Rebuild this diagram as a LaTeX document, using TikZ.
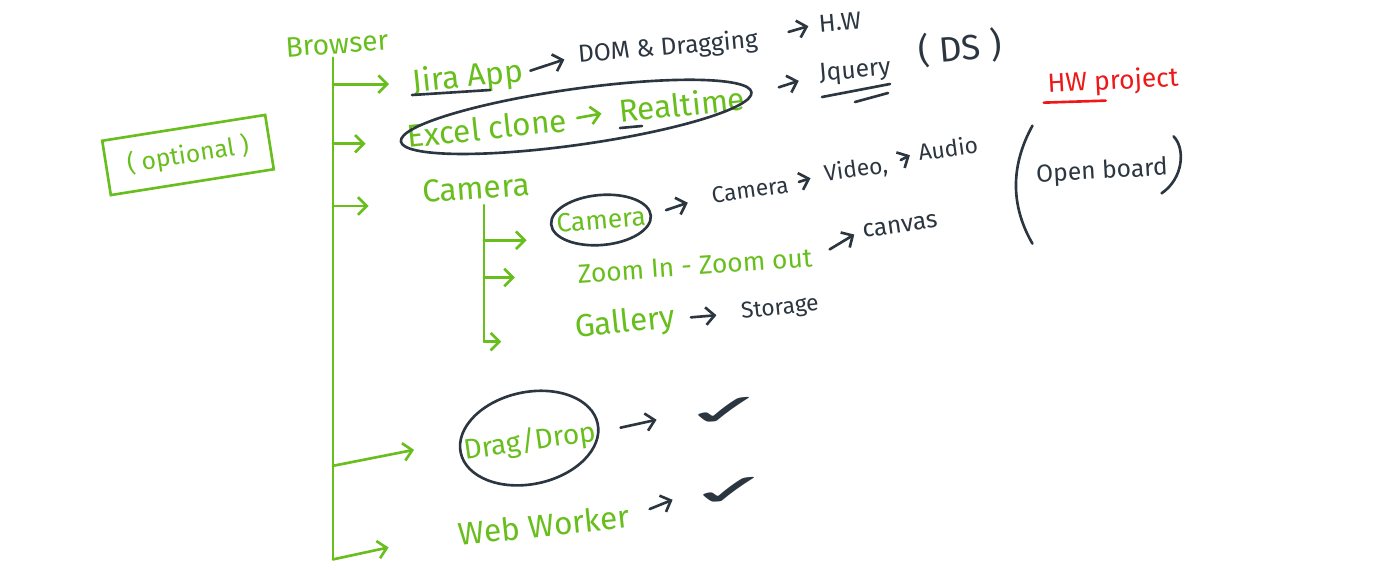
\documentclass[tikz,border=0pt]{standalone}
\usepackage{fontspec}
\setmainfont{Fira Sans}
\newfontfamily\symbolfont{DejaVu Sans}
\usetikzlibrary{positioning}
\usetikzlibrary{calc}
\usetikzlibrary{arrows.meta}
\definecolor{greenink}{RGB}{104,190,28}
\definecolor{darkink}{RGB}{44,54,64}
\definecolor{redink}{RGB}{238,24,24}
\tikzset{>={Straight Barb[length=5pt,width=10pt]}}
\tikzset{greentext/.style={text=greenink, font=\fontsize{18}{21}\selectfont, inner sep=2pt}}
\tikzset{darktext/.style={text=darkink, font=\fontsize{14}{17}\selectfont, inner sep=2pt}}
\tikzset{redtext/.style={text=redink, font=\fontsize{15}{18}\selectfont, inner sep=2pt}}
\tikzset{greenline/.style={draw=greenink, line width=1.5pt, line cap=round, line join=round}}
\tikzset{darkline/.style={draw=darkink, line width=1.5pt, line cap=round, line join=round}}
\tikzset{branch/.style={greenline, ->}}
\tikzset{lead/.style={darkline, ->}}
\tikzset{tick/.style={text=darkink, font=\symbolfont\fontsize{24}{24}\selectfont, xscale=2.6, inner sep=0pt}}

\begin{document}
\begin{tikzpicture}[x=0.02cm, y=-0.02cm]
    \useasboundingbox (0,0) rectangle (1390,569);

    % Green tree
    \node [greentext, font=\fontsize{16}{19}\selectfont, rotate=4] (browser) at (337,44) {Browser};
    \node [greentext, rotate=6] (jira) at (468,78) {Jira App};
    \node [greentext, rotate=6] (excel) at (487,128) {Excel clone};
    \node [greentext, rotate=6] (realtime) at (682,104) {Realtime};
    \node [greentext, rotate=4] (camera) at (476,188) {Camera};
    \node [greentext, font=\fontsize{15}{18}\selectfont, rotate=5] (camerabox) at (601,220) {Camera};
    \node [greentext, font=\fontsize{15}{18}\selectfont, rotate=4] (zoom) at (695,266) {Zoom In - Zoom out};
    \node [greentext, rotate=6] (gallery) at (625,324) {Gallery};
    \node [greentext, font=\fontsize{16}{19}\selectfont, rotate=8] (dragdrop) at (530,442) {Drag/Drop};
    \node [greentext, rotate=6] (webworker) at (544,525) {Web Worker};
    \node [greentext, font=\fontsize{14}{17}\selectfont, draw=greenink, line width=1.5pt,
           rotate=9, minimum width=3.3cm, minimum height=1.1cm] (optional) at (188,155) {( optional )};

    % Dark notes
    \node [darktext, rotate=5] (dom) at (668,48) {DOM \& Dragging};
    \node [darktext, rotate=5] (hw) at (840,22) {H.W};
    \node [darktext, rotate=5] (jquery) at (855,72) {Jquery};
    \node [darktext, font=\fontsize{20}{24}\selectfont, rotate=5] (ds) at (960,48) {( DS )};
    \node [darktext, font=\fontsize{13}{16}\selectfont, rotate=8] (camera2) at (750,190) {Camera};
    \node [darktext, font=\fontsize{13}{16}\selectfont, rotate=8] (video) at (856,170) {Video,};
    \node [darktext, font=\fontsize{13}{16}\selectfont, rotate=8] (audio) at (948,148) {Audio};
    \node [darktext, rotate=8] (canvas) at (900,226) {canvas};
    \node [darktext, font=\fontsize{13}{16}\selectfont, rotate=6] (storage) at (780,309) {Storage};
    \node [tick, rotate=8] (check1) at (727,412) {✓};
    \node [tick, rotate=8] (check2) at (732,492) {✓};
    \node [darktext, rotate=3] (openboard) at (1102,172) {Open board};
    \node [redtext, rotate=3] (hwproject) at (1113,82) {HW project};

    % Main trunk and branches
    \coordinate (trunktop) at ($(browser.south)+(-5,0)$);
    \coordinate (trunkbot) at ($(trunktop |- webworker.west)+(0,25)$);
    \draw [greenline] (trunktop) -- (trunkbot);
    \draw [branch] (trunktop |- jira.west) -- ($(jira.west)+(-20,0)$);
    \draw [branch] ($(trunktop |- excel.west)+(0,7)$) -- ($(excel.west)+(-38,7)$);
    \draw [branch] ($(trunktop |- camera.west)+(0,14)$) -- ($(camera.west)+(-50,14)$);
    \draw [branch] ($(trunktop |- dragdrop.west)+(0,14)$) -- ($(dragdrop.west)+(-46,-2)$);
    \draw [branch] (trunkbot) -- ($(webworker.west)+(-66,13)$);

    % Camera sub tree
    \coordinate (subtop) at ($(camera.south)+(7,2)$);
    \draw [greenline] (subtop) -- ($(subtop |- gallery.west)+(0,12)$);
    \draw [branch] ($(subtop |- camerabox.west)+(0,16)$) -- ($(camerabox.west)+(-26,16)$);
    \draw [branch] ($(subtop |- zoom.west)+(0,3)$) -- ($(zoom.west)+(-59,3)$);
    \draw [branch] ($(subtop |- gallery.west)+(0,12)$) -- ($(gallery.west)+(-70,12)$);

    % Arrows to the notes
    \draw [greenline, ->, shorten <=4pt, shorten >=8pt] (excel.east) -- (realtime.west);
    \draw [lead, shorten <=2pt, shorten >=6pt] (jira.east) -- (dom.west);
    \draw [lead, shorten <=16pt, shorten >=4pt] (dom.east) -- (hw.west);
    \draw [lead, shorten <=18pt, shorten >=10pt] (realtime.east) -- (jquery.west);
    \draw [lead, shorten <=10pt, shorten >=12pt] (camerabox.east) -- (camera2.west);
    \draw [lead, shorten <=4pt, shorten >=6pt] (camera2.east) -- (video.west);
    \draw [lead, shorten <=6pt, shorten >=3pt] (video.east) -- (audio.west);
    \draw [lead, shorten <=9pt, shorten >=3pt] (zoom.east) -- (canvas.west);
    \draw [lead, shorten <=7pt, shorten >=12pt] (gallery.east) -- (storage.west);
    \draw [lead, shorten <=12pt, shorten >=14pt] (dragdrop.east) -- (check1.west);
    \draw [lead, shorten <=10pt, shorten >=8pt] (webworker.east) -- (check2.west);

    % Rings
    \coordinate (excelmid) at ($(excel.west)!0.5!(realtime.east)$);
    \draw [darkline, rotate around={8:(excelmid)}] (excelmid) ellipse (177 and 28);
    \draw [darkline, rotate around={5:(camerabox)}] (camerabox) ellipse (50 and 25);
    \draw [darkline, rotate around={12:(dragdrop)}] ($(dragdrop)+(0,-4)$) ellipse (70 and 46);

    % Underlines
    \draw [darkline] ($(jira.center)+(-56,17)$) -- ($(jira.center)+(22,12)$);
    \draw [darkline] ($(realtime.center)+(-62,24)$) -- ($(realtime.center)+(-40,22)$);
    \draw [darkline] ($(jquery.center)+(-33,25)$) -- ($(jquery.center)+(35,12)$);
    \draw [darkline] ($(jquery.center)+(0,30)$) -- ($(jquery.center)+(33,21)$);
    \draw [draw=redink, line width=1.5pt, line cap=round] ($(hwproject.west)+(0,17)$) -- ($(hwproject.west)+(62,15)$);

    % Brackets round Open board
    \draw [darkline] ($(openboard.west)+(0,-50)$) .. controls ($(openboard.west)+(-22,-10)$) and ($(openboard.west)+(-22,30)$) .. ($(openboard.west)+(0,68)$);
    \draw [darkline] ($(openboard.east)+(2,-32)$) .. controls ($(openboard.east)+(14,-20)$) and ($(openboard.east)+(12,10)$) .. ($(openboard.east)+(-10,25)$);

\end{tikzpicture}
\end{document}
